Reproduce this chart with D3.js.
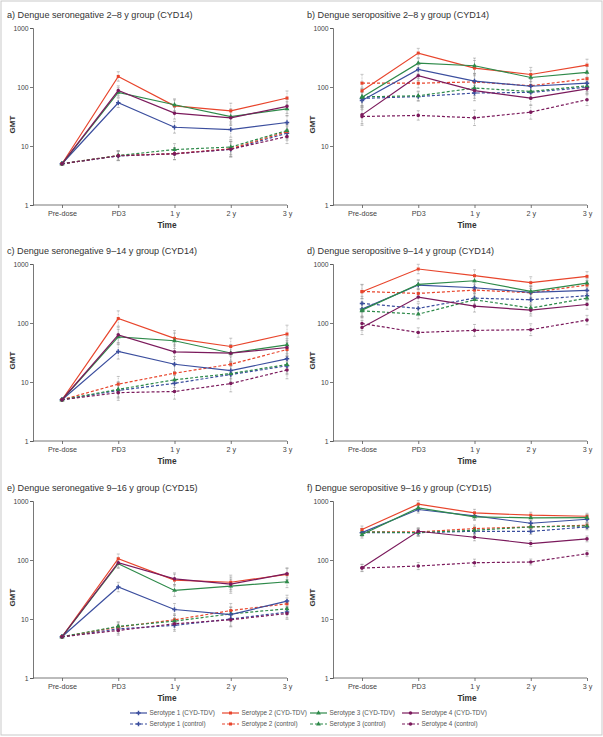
<!DOCTYPE html>
<html><head><meta charset="utf-8">
<script src="https://cdn.jsdelivr.net/npm/d3@7"></script>
<style>
body{margin:0;background:#fff;}
svg{display:block;font-family:"Liberation Sans",Arial,Helvetica,sans-serif;}
</style></head>
<body><svg id="c" width="603" height="737"></svg>
<script>
const timepoints = ["Pre-dose","PD3","1 y","2 y","3 y"];
const yTicks = [1,10,100,1000];
const seriesNames = ["Serotype 1","Serotype 2","Serotype 3","Serotype 4"];
const seriesColors = ["#3b4e9e","#e8452c","#2e8a4a","#7b1a5c"];

// Panel a) seronegative 2–8 y (CYD14)
const aCYD = [[5,54,20.8,19,25],[5,151,48,39.4,65],[5,81,50,31.6,42.6],[5,87,36,30,47]];
const aCtrl = [[5,6.8,7.4,8.8,16.5],[5,6.9,7.4,9.0,17.5],[5,6.9,8.7,9.6,18.3],[5,6.8,7.4,8.8,14.5]];
const aErr = [0,0.08,0.1,0.13,0.12];
// Panel b) seropositive 2–8 y (CYD14)
const bCYD = [[59,199,126,103,116],[86,376,209,163,235],[67,254,229,145,177],[33.7,155,87,64.7,93]];
const bCtrl = [[64,69,79,81,99],[116,116,122,105,138],[68,71,96,84,105],[31.6,33,30,37.5,61]];
const bErr = [0.15,0.08,0.13,0.12,0.1];
// Panel c) seronegative 9–14 y (CYD14)
const cCYD = [[5,33,20,15.6,24.7],[5,119,55,40,65],[5,58,50,31,42.6],[5,63,32.4,30.8,38.4]];
const cCtrl = [[5,7.2,9.5,13.4,18.8],[5,9.2,14.1,20,35.5],[5,7.5,10.9,13.9,19.8],[5,6.6,6.9,9.4,16]];
const cErr = [0,0.13,0.13,0.14,0.15];
// Panel d) seropositive 9–14 y (CYD14)
const dCYD = [[172,440,396,330,357],[338,822,633,482,617],[165,451,520,343,475],[84,275,193,165,206]];
const dCtrl = [[215,177,264,248,290],[343,317,361,326,440],[161,141,248,179,264],[98,69,75,77,112]];
const dErr = [0.12,0.08,0.1,0.1,0.08];
// Panel e) seronegative 9–16 y (CYD15)
const eCYD = [[5,34.8,14.5,11.9,20.1],[5,105,45.7,42,57],[5,86.6,30.5,36,42.8],[5,90,48,39,58.6]];
const eCtrl = [[5,6.8,7.8,10,13.1],[5,7.3,9.7,13.9,18.1],[5,7.5,9.2,12.2,14.9],[5,6.4,8.3,9.7,12.4]];
const eErr = [0,0.08,0.1,0.12,0.1];
// Panel f) seropositive 9–16 y (CYD15)
const fCYD = [[291,717,560,420,491],[328,884,629,575,552],[270,765,538,518,524],[74,307,243,190,228]];
const fCtrl = [[291,291,307,305,364],[299,299,341,364,388],[299,291,319,364,378],[73,79,90,92.5,128]];
const fErr = [0.06,0.06,0.06,0.05,0.05];

const panelTitles = [
 "a) Dengue seronegative 2–8 y group (CYD14)",
 "b) Dengue seropositive 2–8 y group (CYD14)",
 "c) Dengue seronegative 9–14 y group (CYD14)",
 "d) Dengue seropositive 9–14 y group (CYD14)",
 "e) Dengue seronegative 9–16 y group (CYD15)",
 "f) Dengue seropositive 9–16 y group (CYD15)"
];

const panels = [
 {title:panelTitles[0],cyd:aCYD,ctrl:aCtrl,err:aErr,col:0,row:0},
 {title:panelTitles[1],cyd:bCYD,ctrl:bCtrl,err:bErr,col:1,row:0},
 {title:panelTitles[2],cyd:cCYD,ctrl:cCtrl,err:cErr,col:0,row:1},
 {title:panelTitles[3],cyd:dCYD,ctrl:dCtrl,err:dErr,col:1,row:1},
 {title:panelTitles[4],cyd:eCYD,ctrl:eCtrl,err:eErr,col:0,row:2},
 {title:panelTitles[5],cyd:fCYD,ctrl:fCtrl,err:fErr,col:1,row:2}
];

const svg = d3.select("#c");
svg.append("rect").attr("x",1).attr("y",1).attr("width",601).attr("height",734)
  .attr("fill","#fff").attr("stroke","#c9c9c9").attr("stroke-width",1);

const symbols = [d3.symbolCross, d3.symbolSquare, d3.symbolTriangle, d3.symbolCircle];
const symSizes = [11, 9, 10, 10];

const colX = [0,300];
const rowTop = [28,264,501];
const plotH = 177;

panels.forEach(p=>{
  const ox = colX[p.col];
  const top = rowTop[p.row];
  const bottom = top + plotH;
  const axisX = ox + 33;
  const x = d3.scalePoint().domain(timepoints).range([ox+62, ox+287]);
  const y = d3.scaleLog().domain([1,1000]).range([bottom, top]);
  const g = svg.append("g");

  g.append("text").attr("x",ox+7).attr("y",top-10).attr("font-size",9.1)
   .attr("fill","#333").text(p.title);

  // y axis
  const ya = g.append("g").attr("transform",`translate(${axisX},0)`)
   .call(d3.axisLeft(y).tickValues(yTicks).tickFormat(d3.format("d")).tickSize(3).tickPadding(1.5));
  ya.select(".domain").attr("stroke","#555").attr("stroke-width",0.8);
  ya.selectAll(".tick line").attr("stroke","#555").attr("stroke-width",0.8);
  ya.selectAll("text").attr("font-size",6.8).attr("fill","#444").attr("font-family","Liberation Sans, Arial, sans-serif");

  // x axis
  const xa = g.append("g").attr("transform",`translate(0,${bottom})`)
   .call(d3.axisBottom(x).tickSize(3).tickPadding(2.5).tickSizeOuter(0));
  xa.select(".domain").attr("d",`M${axisX},0H${ox+287}`).attr("stroke","#555").attr("stroke-width",0.8);
  xa.selectAll(".tick line").attr("stroke","#555").attr("stroke-width",0.8);
  xa.selectAll("text").attr("font-size",7.2).attr("fill","#444").attr("font-family","Liberation Sans, Arial, sans-serif");

  g.append("text").attr("x",ox+167).attr("y",bottom+23).attr("text-anchor","middle")
   .attr("font-size",8.3).attr("font-weight","bold").attr("fill","#333").text("Time");
  g.append("text").attr("transform",`translate(${ox+15},${(top+bottom)/2+8}) rotate(-90)`)
   .attr("text-anchor","middle").attr("font-size",8).attr("font-weight","bold").attr("fill","#333").text("GMT");

  const all = p.ctrl.map((v,i)=>({vals:v,i,dash:true})).concat(p.cyd.map((v,i)=>({vals:v,i,dash:false})));

  // error bars
  const eb = g.append("g").attr("stroke","#9a9a9a").attr("stroke-width",0.6);
  all.forEach(s=>{
    s.vals.forEach((v,k)=>{
      const h = p.err[k];
      if(h<=0) return;
      const cx = x(timepoints[k]);
      const lo = y(v/Math.pow(10,h)), hi = y(v*Math.pow(10,h));
      eb.append("line").attr("x1",cx).attr("x2",cx).attr("y1",lo).attr("y2",hi).attr("stroke-dasharray","1,0.6");
      eb.append("line").attr("x1",cx-1.5).attr("x2",cx+1.5).attr("y1",lo).attr("y2",lo);
      eb.append("line").attr("x1",cx-1.5).attr("x2",cx+1.5).attr("y1",hi).attr("y2",hi);
    });
  });

  const line = d3.line().x((d,k)=>x(timepoints[k])).y(d=>y(d));
  all.forEach(s=>{
    g.append("path").datum(s.vals).attr("d",line).attr("fill","none")
     .attr("stroke",seriesColors[s.i]).attr("stroke-width",1.2)
     .attr("stroke-dasharray",s.dash?"3,2":null);
    g.selectAll(null).data(s.vals).enter().append("path")
     .attr("d",d3.symbol().type(symbols[s.i]).size(symSizes[s.i]))
     .attr("transform",(d,k)=>`translate(${x(timepoints[k])},${y(d)})`)
     .attr("fill",seriesColors[s.i]);
  });
});

// legend
const legX = [130,222,310,402];
const leg = svg.append("g");
[0,1].forEach(r=>{
  const ly = 713 + r*11;
  seriesNames.forEach((n,i)=>{
    const lx = legX[i];
    leg.append("line").attr("x1",lx).attr("x2",lx+17).attr("y1",ly).attr("y2",ly)
      .attr("stroke",seriesColors[i]).attr("stroke-width",1.2).attr("stroke-dasharray",r?"3,2":null);
    leg.append("path").attr("d",d3.symbol().type(symbols[i]).size(symSizes[i]))
      .attr("transform",`translate(${lx+8.5},${ly})`).attr("fill",seriesColors[i]);
    leg.append("text").attr("x",lx+19.5).attr("y",ly+2.3).attr("font-size",6.4).attr("fill","#555")
      .text(n + (r ? " (control)" : " (CYD-TDV)"));
  });
});
</script></body></html>
